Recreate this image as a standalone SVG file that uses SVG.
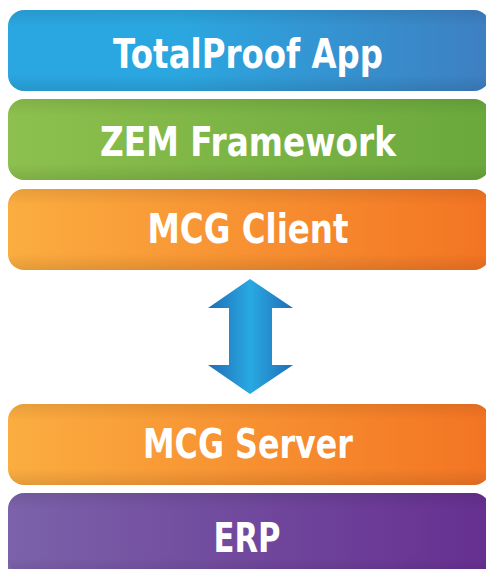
<svg xmlns="http://www.w3.org/2000/svg" width="486" height="569" viewBox="0 0 486 569">
<style>
.lbl{font-family:"DejaVu Sans",sans-serif;font-weight:bold;font-size:40px;fill:#ffffff;text-anchor:middle}
.shade{fill:url(#vshade)}
</style>
<defs>
<linearGradient id="gBlue" x1="0" y1="0" x2="1" y2="0">
<stop offset="0" stop-color="#2aa6e0"/><stop offset="0.35" stop-color="#2ba7e0"/><stop offset="1" stop-color="#3e7fc1"/>
</linearGradient>
<linearGradient id="gGreen" x1="0" y1="0" x2="1" y2="0">
<stop offset="0" stop-color="#8dc04e"/><stop offset="1" stop-color="#6aa83c"/>
</linearGradient>
<linearGradient id="gOrange" x1="0" y1="0" x2="1" y2="0">
<stop offset="0" stop-color="#fbad40"/><stop offset="1" stop-color="#f37423"/>
</linearGradient>
<linearGradient id="gPurple" x1="0" y1="0" x2="1" y2="0">
<stop offset="0" stop-color="#7b62aa"/><stop offset="1" stop-color="#662f90"/>
</linearGradient>
<linearGradient id="vshade" x1="0" y1="0" x2="0" y2="1">
<stop offset="0" stop-color="#000" stop-opacity="0.08"/><stop offset="0.2" stop-color="#000" stop-opacity="0"/><stop offset="0.8" stop-color="#000" stop-opacity="0"/><stop offset="1" stop-color="#000" stop-opacity="0.10"/>
</linearGradient>
<linearGradient id="gArrow" x1="0" y1="0" x2="1" y2="0">
<stop offset="0" stop-color="#1f6db7"/><stop offset="0.5" stop-color="#29a9e1"/><stop offset="1" stop-color="#1f6db7"/>
</linearGradient>
</defs>
<g id="node-totalproof">
<rect x="8" y="10" width="482" height="81" rx="16" fill="url(#gBlue)"/>
<rect class="shade" x="8" y="10" width="482" height="81" rx="16"/>
<text class="lbl" x="248" y="68" textLength="270" lengthAdjust="spacingAndGlyphs">TotalProof App</text>
</g>
<g id="node-zem">
<rect x="8" y="99" width="482" height="81" rx="16" fill="url(#gGreen)"/>
<rect class="shade" x="8" y="99" width="482" height="81" rx="16"/>
<text class="lbl" x="248" y="156" textLength="296" lengthAdjust="spacingAndGlyphs">ZEM Framework</text>
</g>
<g id="node-mcgclient">
<rect x="8" y="189" width="482" height="81" rx="16" fill="url(#gOrange)"/>
<rect class="shade" x="8" y="189" width="482" height="81" rx="16"/>
<text class="lbl" x="248" y="243" textLength="201" lengthAdjust="spacingAndGlyphs">MCG Client</text>
</g>
<g id="node-mcgserver">
<rect x="8" y="404" width="482" height="81" rx="16" fill="url(#gOrange)"/>
<rect class="shade" x="8" y="404" width="482" height="81" rx="16"/>
<text class="lbl" x="248" y="458" textLength="210" lengthAdjust="spacingAndGlyphs">MCG Server</text>
</g>
<g id="node-erp">
<rect x="8" y="493" width="482" height="90" rx="16" fill="url(#gPurple)"/>
<rect class="shade" x="8" y="493" width="482" height="81" rx="16"/>
<text class="lbl" x="247" y="552" textLength="67" lengthAdjust="spacingAndGlyphs">ERP</text>
</g>
<g id="connectors">
<path d="M250 279 L293 308 L272 308 L272 365 L293 365 L250 394 L208 365 L229 365 L229 308 L208 308 Z" fill="url(#gArrow)"/>
</g>
</svg>
